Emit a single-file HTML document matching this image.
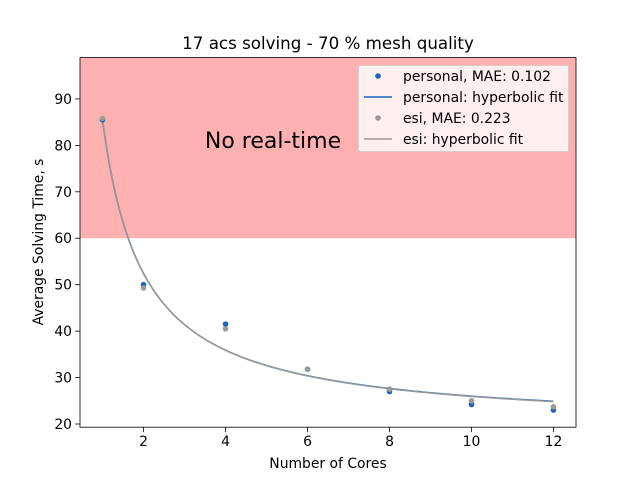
<!DOCTYPE html>
<html><head><meta charset="utf-8"><style>
body{margin:0;background:#fff}
svg{font-family:"DejaVu Sans","Liberation Sans",sans-serif}
</style></head><body>
<svg id="c" width="640" height="480" xmlns="http://www.w3.org/2000/svg"></svg>
<script>
const xTicks=[2,4,6,8,10,12];
const yTicks=[20,30,40,50,60,70,80,90];
const personalX=[1,2,4,6,8,10,12];
const personalY=[85.5,50,41.5,31.8,27,24.2,23];
const esiX=[1,2,4,6,8,10,12];
const esiY=[85.8,49.3,40.5,31.8,27.5,25,23.7];
const personalFit=[66,19.4];
const esiFit=[66.3,19.3];
const threshold=60;
const L=80,R=576,T=57.6,B=427.2,x0=0.45,x1=12.55,y0=19.31,y1=98.9;
const sx=v=>L+(v-x0)/(x1-x0)*(R-L);
const sy=v=>B-(v-y0)/(y1-y0)*(B-T);
const svg=document.getElementById('c');const NS='http://www.w3.org/2000/svg';
function mk(t,a,txt){const e=document.createElementNS(NS,t);for(const k in a)e.setAttribute(k,a[k]);if(txt!==undefined)e.textContent=txt;svg.appendChild(e);return e;}
let e;
e=mk('rect',{x:L,y:T,width:R-L,height:sy(threshold)-T,fill:'#ffb0b0'});


e=mk('text',{x:273,y:148,'font-size':22,'text-anchor':'middle',fill:'#000'},'No real-time');


function fitPath(p){let d='';for(let i=0;i<=200;i++){const x=1+11*i/200;d+=(i?'L':'M')+sx(x).toFixed(2)+','+sy(p[0]/x+p[1]).toFixed(2);}return d;}
e=mk('path',{d:fitPath(personalFit),fill:'none',stroke:'#1565c0','stroke-width':1.5});


e=mk('path',{d:fitPath(esiFit),fill:'none',stroke:'#999999','stroke-width':1.5});


personalX.forEach((x,i)=>{const c=mk('circle',{cx:sx(x),cy:sy(personalY[i]),r:2.8,fill:'#1565c0'});

});
esiX.forEach((x,i)=>{const c=mk('circle',{cx:sx(x),cy:sy(esiY[i]),r:2.8,fill:'#999999'});

});
e=mk('rect',{x:L,y:T,width:R-L,height:B-T,fill:'none',stroke:'#000','stroke-width':0.8});


xTicks.forEach(v=>{const X=sx(v);mk('line',{x1:X,x2:X,y1:B,y2:B+4.9,stroke:'#000','stroke-width':0.8});
const t=mk('text',{x:X,y:B+19,'font-size':13.9,'text-anchor':'middle'},v);

});
yTicks.forEach(v=>{const Y=sy(v);mk('line',{x1:L,x2:L-4.9,y1:Y,y2:Y,stroke:'#000','stroke-width':0.8});
const t=mk('text',{x:L-8,y:Y+5,'font-size':13.9,'text-anchor':'end'},v);

});
e=mk('text',{x:328,y:49,'font-size':16.7,'text-anchor':'middle'},'17 acs solving - 70 % mesh quality');


e=mk('text',{x:328,y:468,'font-size':13.9,'text-anchor':'middle'},'Number of Cores');


e=mk('text',{x:0,y:0,'font-size':13.9,'text-anchor':'middle',transform:'translate(43,242) rotate(-90)'},'Average Solving Time, s');


e=mk('rect',{x:358.5,y:65.5,width:210,height:86,rx:2,fill:'#fff','fill-opacity':0.8,stroke:'#ccc','stroke-width':0.8});


const leg=[['personal, MAE: 0.102','#1565c0','dot'],['personal: hyperbolic fit','#1565c0','line'],['esi, MAE: 0.223','#999999','dot'],['esi: hyperbolic fit','#999999','line']];
leg.forEach((l,i)=>{const Y=76+i*21;
if(l[2]==='dot'){mk('circle',{cx:378,cy:Y,r:2.8,fill:l[1]});}else{mk('line',{x1:364,x2:392,y1:Y,y2:Y,stroke:l[1],'stroke-width':1.5});}
const t=mk('text',{x:403,y:Y+5,'font-size':13.9},l[0]);

});
</script>
</body></html>
